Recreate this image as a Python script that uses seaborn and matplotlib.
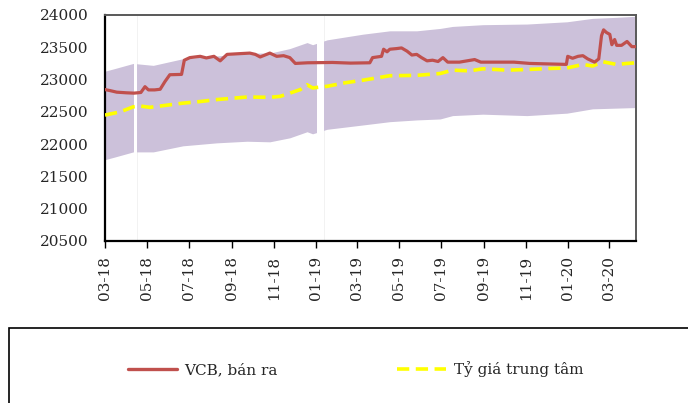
import matplotlib
matplotlib.use("Agg")
import matplotlib.pyplot as plt
import matplotlib.dates as mdates
from matplotlib.patches import Rectangle
from matplotlib.lines import Line2D
import pandas as pd
import seaborn as sns

# ---------------- data ----------------
vcb_dates = ["2018-03-01", "2018-03-08", "2018-03-18", "2018-04-01", "2018-04-12", "2018-04-22",
             "2018-04-28", "2018-05-03", "2018-05-12", "2018-05-20", "2018-05-27", "2018-06-03",
             "2018-06-20", "2018-06-24", "2018-07-02", "2018-07-17", "2018-07-26", "2018-08-06",
             "2018-08-15", "2018-08-25", "2018-09-10", "2018-09-27", "2018-10-05", "2018-10-12",
             "2018-10-26", "2018-11-05", "2018-11-15", "2018-11-24", "2018-12-02", "2018-12-20",
             "2019-01-25", "2019-02-20", "2019-03-20", "2019-03-24", "2019-04-06", "2019-04-09",
             "2019-04-14", "2019-04-18", "2019-04-28", "2019-05-05", "2019-05-13", "2019-05-20",
             "2019-05-27", "2019-06-03", "2019-06-11", "2019-06-19", "2019-06-27", "2019-07-04",
             "2019-07-11", "2019-07-28", "2019-08-19", "2019-08-28", "2019-10-15", "2019-11-07",
             "2019-12-30", "2020-01-01", "2020-01-08", "2020-01-16", "2020-01-23", "2020-01-30",
             "2020-02-09", "2020-02-15", "2020-02-19", "2020-02-22", "2020-02-26", "2020-03-02",
             "2020-03-05", "2020-03-09", "2020-03-12", "2020-03-19", "2020-03-27", "2020-04-03",
             "2020-04-09"]
vcb_sell = [22845, 22830, 22805, 22795, 22790, 22800,
            22890, 22840, 22840, 22850, 22970, 23075,
            23080, 23300, 23340, 23360, 23335, 23360,
            23290, 23390, 23400, 23410, 23390, 23350,
            23410, 23360, 23370, 23340, 23250, 23260,
            23265, 23255, 23260, 23340, 23360, 23470,
            23430, 23470, 23480, 23490, 23440, 23380,
            23390, 23340, 23290, 23300, 23280, 23340,
            23270, 23270, 23310, 23270, 23270, 23250,
            23235, 23360, 23330, 23360, 23370, 23320,
            23270, 23320, 23680, 23770, 23730, 23700,
            23540, 23620, 23530, 23530, 23590, 23510,
            23510]

central_dates = ["2018-03-01", "2018-03-23", "2018-04-11", "2018-04-21", "2018-05-05", "2018-05-20",
                 "2018-06-22", "2018-07-17", "2018-08-10", "2018-09-23", "2018-10-26", "2018-11-10",
                 "2018-11-24", "2018-12-09", "2018-12-19", "2018-12-27", "2019-01-17", "2019-02-12",
                 "2019-03-10", "2019-04-18", "2019-05-27", "2019-06-30", "2019-07-18", "2019-08-12",
                 "2019-08-31", "2019-10-05", "2019-11-03", "2019-12-06", "2019-12-31", "2020-01-23",
                 "2020-02-06", "2020-02-21", "2020-03-12", "2020-03-27", "2020-04-09"]
central_rate = [22450, 22500, 22578, 22590, 22570, 22590,
                22635, 22660, 22690, 22730, 22725, 22740,
                22790, 22844, 22920, 22870, 22896, 22950,
                22990, 23060, 23065, 23094, 23146, 23135,
                23167, 23146, 23156, 23172, 23180, 23234,
                23210, 23276, 23234, 23250, 23260]

band_dates = ["2018-03-01", "2018-03-15", "2018-04-11", "2018-05-10", "2018-06-22", "2018-08-10",
              "2018-09-23", "2018-10-26", "2018-11-24", "2018-12-19", "2018-12-27", "2019-01-17",
              "2019-03-10", "2019-04-18", "2019-05-27", "2019-06-30", "2019-07-18", "2019-08-31",
              "2019-11-03", "2019-12-31", "2020-02-06", "2020-03-12", "2020-04-09"]
band_upper = [23130, 23170, 23250, 23220, 23323, 23365,
              23410, 23410, 23480, 23573, 23540, 23615,
              23703, 23755, 23755, 23792, 23823, 23850,
              23860, 23895, 23948, 23964, 23980]
band_lower = [21760, 21800, 21880, 21880, 21974, 22020,
              22045, 22036, 22098, 22192, 22160, 22230,
              22297, 22348, 22375, 22390, 22442, 22464,
              22442, 22480, 22547, 22558, 22567]

band_gaps = [("2018-04-12", "2018-04-17"), ("2019-01-03", "2019-01-13")]

y_ticks = [20500, 21000, 21500, 22000, 22500, 23000, 23500, 24000]
series_labels = ["VCB, bán ra", "Tỷ giá trung tâm"]

# ---------------- figure ----------------
sns.set_style("white")
plt.rcParams["font.family"] = ["DejaVu Serif"]

fig = plt.figure(figsize=(6.88, 4.03), dpi=100)
ax = fig.add_axes([105 / 688, 1 - 241 / 403, (636 - 105) / 688, (241 - 15) / 403])

vcb = pd.DataFrame({"date": pd.to_datetime(vcb_dates), "value": vcb_sell})
cen = pd.DataFrame({"date": pd.to_datetime(central_dates), "value": central_rate})
band = pd.DataFrame({"date": pd.to_datetime(band_dates), "upper": band_upper, "lower": band_lower})

red = "#C0504D"
yellow = "#FFFF00"
lav = "#CCC1DA"
dash = (0, (3.4, 1.8))

ax.fill_between(band["date"], band["lower"], band["upper"], color=lav, lw=0, zorder=1)
for g0, g1 in band_gaps:
    ax.axvspan(pd.Timestamp(g0), pd.Timestamp(g1), color="white", lw=0, zorder=1.5)
    for g in (g0, g1):
        ax.axvline(pd.Timestamp(g), color="#F0F0F0", lw=0.6, zorder=0.5)

sns.lineplot(data=cen, x="date", y="value", ax=ax, color=yellow, lw=2.6,
             linestyle=dash, zorder=3)
sns.lineplot(data=vcb, x="date", y="value", ax=ax, color=red, lw=2.3, zorder=4)

ax.set_xlim(pd.Timestamp("2018-03-01"), pd.Timestamp("2020-04-09"))
ax.set_ylim(20500, 24000)
ax.set_yticks(y_ticks)
ax.set_xlabel("")
ax.set_ylabel("")
ax.xaxis.set_major_locator(mdates.MonthLocator(bymonth=[1, 3, 5, 7, 9, 11]))
ax.xaxis.set_major_formatter(mdates.DateFormatter("%m-%y"))
ax.tick_params(axis="x", rotation=90, length=5, width=1, color="black", labelsize=11, pad=6,
               direction="out", bottom=True)
ax.tick_params(axis="y", length=0, labelsize=11, pad=12)

for s in ["left", "bottom"]:
    ax.spines[s].set_color("black")
    ax.spines[s].set_linewidth(1.6)
for s in ["top", "right"]:
    ax.spines[s].set_color("#595959")
    ax.spines[s].set_linewidth(1.4)
ax.set_zorder(2)

# legend box (extends past the figure edge)
fig.patches.append(Rectangle((8.5 / 688, -0.2), 1.0, 1 - 328 / 403 + 0.2, transform=fig.transFigure,
                             fill=False, edgecolor="black", lw=1.2))

handles = [Line2D([], [], color=red, lw=2.4),
           Line2D([], [], color=yellow, lw=2.6, linestyle=dash)]
fig.legend(handles, series_labels, loc="center left", bbox_to_anchor=(128 / 688, 1 - 369 / 403),
           ncol=2, frameon=False, fontsize=11, handlelength=3.2, handletextpad=0.5,
           columnspacing=7.8, borderpad=0, borderaxespad=0)

fig.savefig("out.png", dpi=100)
